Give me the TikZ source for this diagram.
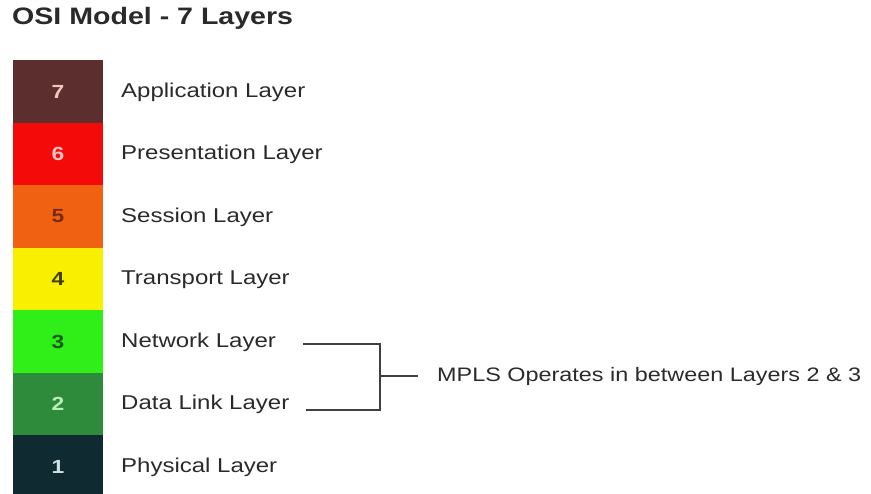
\documentclass[tikz,border=0pt]{standalone}
\usepackage{fontspec}
\setmainfont[FakeStretch=1.2]{Liberation Sans}
\definecolor{layerseven}{HTML}{5C2E2E}
\definecolor{layersix}{HTML}{F50A0A}
\definecolor{layerfive}{HTML}{F06212}
\definecolor{layerfour}{HTML}{F8F000}
\definecolor{layerthree}{HTML}{30EE18}
\definecolor{layertwo}{HTML}{2E8B3C}
\definecolor{layerone}{HTML}{0F2A30}
\definecolor{digitseven}{HTML}{F0C8C0}
\definecolor{digitsix}{HTML}{F8C4C4}
\definecolor{digitfive}{HTML}{7A2A10}
\definecolor{digitfour}{HTML}{404000}
\definecolor{digitthree}{HTML}{1A5A1A}
\definecolor{digittwo}{HTML}{B8F0B8}
\definecolor{digitone}{HTML}{D0E0E0}
\definecolor{inktext}{HTML}{2A2A2A}
\begin{document}
\begin{tikzpicture}[x=1pt,y=-1pt,
  layerbox/.style={rectangle, minimum width=90pt, minimum height=62.6pt, inner sep=0pt,
    font=\fontsize{19}{22}\bfseries},
  layername/.style={anchor=base west, inner sep=0pt, text=inktext,
    font=\fontsize{20}{24}\selectfont},
  bracket/.style={draw=black!75, line width=2pt}]
  \clip (0,0) rectangle (871,494);
  \node[anchor=base west, inner sep=0pt, text=inktext, font=\fontsize{23.8}{28}\bfseries] (title) at (12,25) {OSI Model - 7 Layers};
  \node[layerbox, fill=layerseven, text=digitseven] (L7) at (58,91.5) {7};
  \node[layerbox, fill=layersix, text=digitsix] (L6) at (58,154) {6};
  \node[layerbox, fill=layerfive, text=digitfive] (L5) at (58,216.5) {5};
  \node[layerbox, fill=layerfour, text=digitfour] (L4) at (58,279) {4};
  \node[layerbox, fill=layerthree, text=digitthree] (L3) at (58,341.5) {3};
  \node[layerbox, fill=layertwo, text=digittwo] (L2) at (58,404) {2};
  \node[layerbox, fill=layerone, text=digitone] (L1) at (58,466.5) {1};
  \node[layername] (app) at (121,97.5) {Application Layer};
  \node[layername] (pres) at (121,160) {Presentation Layer};
  \node[layername] (sess) at (121,222.5) {Session Layer};
  \node[layername] (trans) at (121,285) {Transport Layer};
  \node[layername] (net) at (121,347.5) {Network Layer};
  \node[layername] (dll) at (121,410) {Data Link Layer};
  \node[layername] (phys) at (121,472.5) {Physical Layer};
  \node[layername, anchor=west, font=\fontsize{19.5}{24}\selectfont] (mpls) at (437,376) {MPLS Operates in between Layers 2 \& 3};
  \coordinate (join) at (380,376);
  \draw[bracket] ([shift={(27,1.5)}]net.east) -| (join) |- ([shift={(17,5)}]dll.east);
  \draw[bracket] (join) -- ([xshift=-19pt]mpls.west);
\end{tikzpicture}
\end{document}
